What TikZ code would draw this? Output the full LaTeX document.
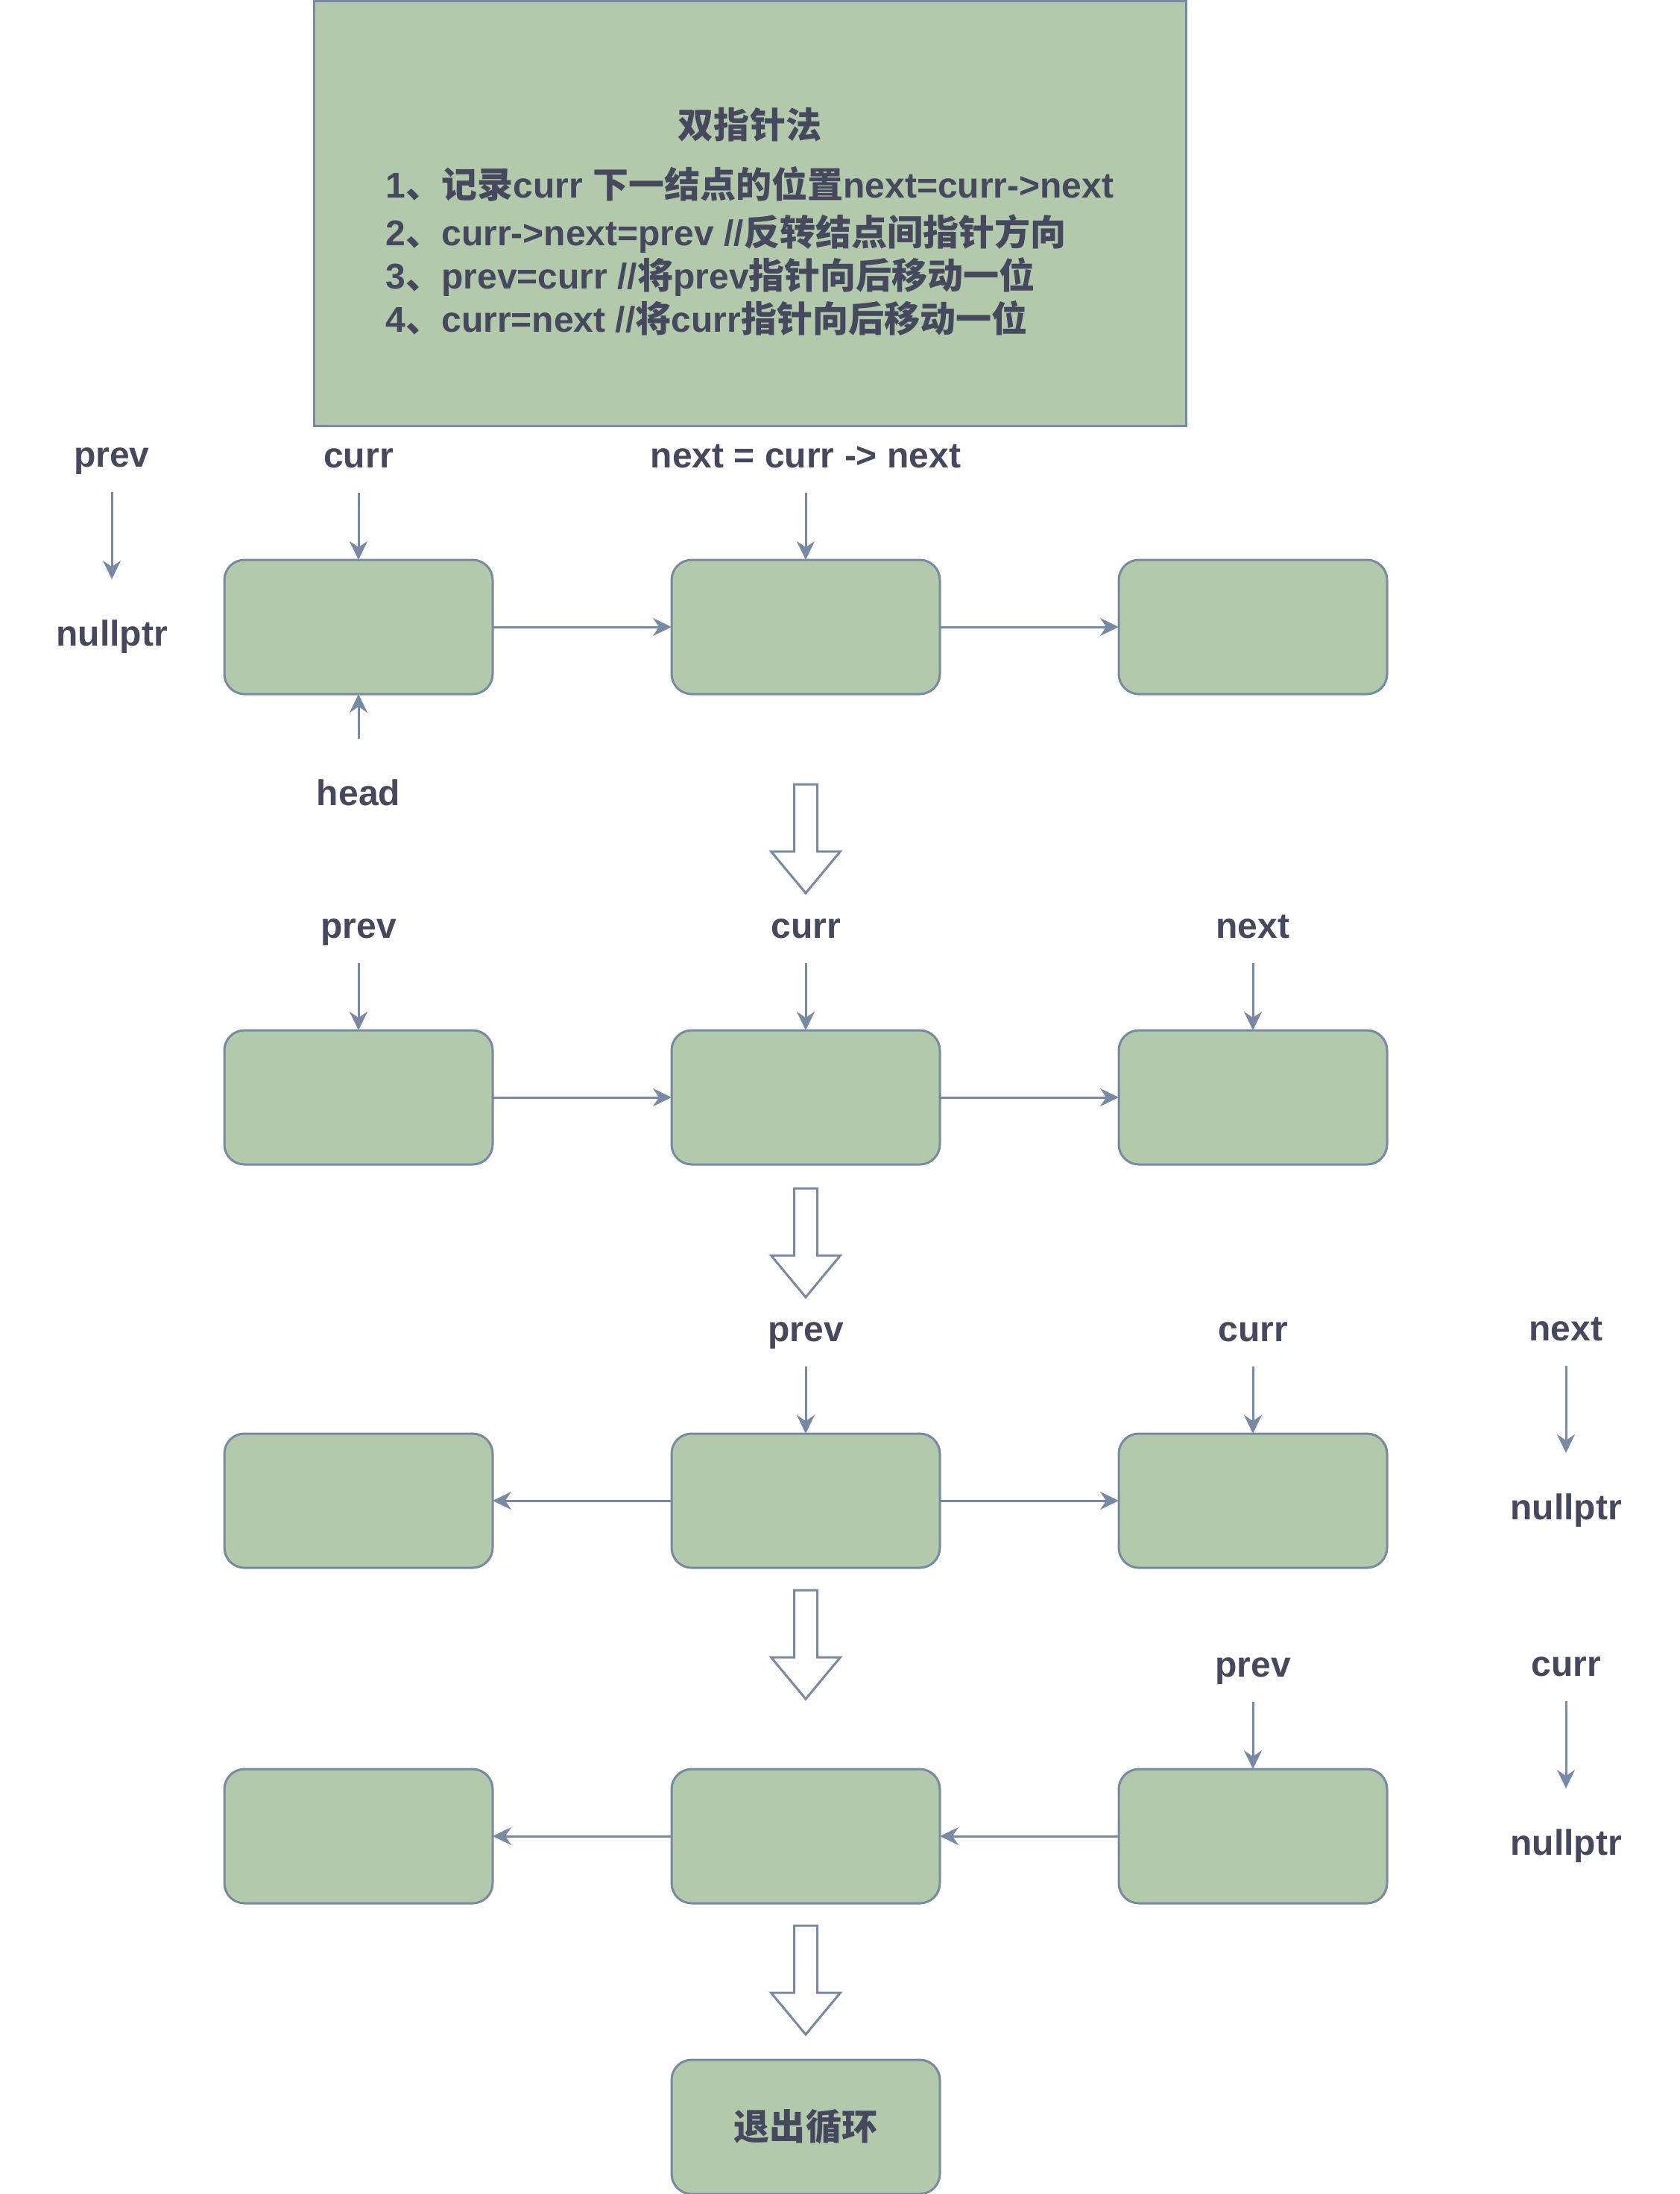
\documentclass[tikz,border=0pt]{standalone}
\usepackage{fontspec}
\setmainfont{Liberation Sans}
\newfontfamily\zhfont{Noto Sans CJK SC}
\newcommand{\zh}[1]{{\zhfont #1}}
\newcommand{\ptrfont}{\bfseries\fontsize{13.66}{16.5}\selectfont}
\usetikzlibrary{positioning, arrows.meta}
\definecolor{nodeGreen}{HTML}{B2C9AB}
\definecolor{lineGray}{HTML}{788AA3}
\definecolor{textDark}{HTML}{46495D}
\tikzset{
	listnode/.style={rectangle, draw=lineGray, line width=0.03cm, rounded corners=0.27cm,
		fill=nodeGreen, minimum width=3.6cm, minimum height=1.8cm, inner sep=0pt,
		outer sep=0pt, font=\ptrfont, text=textDark},
	notebox/.style={rectangle, draw=lineGray, line width=0.03cm, fill=nodeGreen,
		minimum width=11.7cm, minimum height=5.7cm, inner sep=0pt},
	ptrlabel/.style={font=\ptrfont, text=textDark, minimum height=1cm, inner sep=0pt,
		outer sep=0pt, text height=0.434cm, text depth=0.102cm},
	nulllabel/.style={ptrlabel, minimum height=1.46cm},
	ptrarr/.style={-{Stealth[length=0.25cm, width=0.24cm]}, draw=lineGray, line width=0.03cm},
	hollowdown/.pic={
		\draw[lineGray, line width=0.03cm, fill=white, line join=miter]
			(-0.155,0) -- (0.155,0) -- (0.155,-0.90) -- (0.465,-0.90) -- (0,-1.46)
			-- (-0.465,-0.90) -- (-0.155,-0.90) -- cycle;
	}
}

\begin{document}
\begin{tikzpicture}[node distance=2.4cm and 2.4cm]
	\useasboundingbox (0,0) rectangle (22.53,-29.43);
	% note
	\node[notebox] (note) at (10.06,-2.865) {};
	\node[font=\ptrfont, text=textDark] (title) at (10.06,-1.67) {\zh{双指针法}};
	\node[font=\ptrfont, text=textDark, align=left] (steps) at (10.06,-3.37)
		{1\zh{、记录}curr \zh{下一结点的位置}next=curr->next\\[0.06cm]
		 2\zh{、}curr->next=prev //\zh{反转结点间指针方向}\\
		 3\zh{、}prev=curr //\zh{将}prev\zh{指针向后移动一位}\\
		 4\zh{、}curr=next //\zh{将}curr\zh{指针向后移动一位}};
	% row 1
	\node[listnode] (r1a) at (4.81,-8.41) {};
	\node[listnode, right=of r1a] (r1b) {};
	\node[listnode, right=of r1b] (r1c) {};
	\node[ptrlabel] (prev1) at (1.50,-6.10) {prev};
	\node[nulllabel, below=1.17cm of prev1] (null1) {nullptr};
	\node[ptrlabel, above=0.9cm of r1a] (curr1) {curr};
	\node[ptrlabel, above=0.9cm of r1b] (next1) {next = curr -> next};
	\node[nulllabel, below=0.6cm of r1a] (head1) {head};
	\draw[ptrarr] (prev1) -- (null1);
	\draw[ptrarr] (curr1) -- (r1a);
	\draw[ptrarr] (next1) -- (r1b);
	\draw[ptrarr] (head1) -- (r1a);
	\draw[ptrarr] (r1a) -- (r1b);
	\draw[ptrarr] (r1b) -- (r1c);
	% row 2
	\node[listnode, below=4.51cm of r1a] (r2a) {};
	\node[listnode, right=of r2a] (r2b) {};
	\node[listnode, right=of r2b] (r2c) {};
	\node[ptrlabel, above=0.9cm of r2a] (prev2) {prev};
	\node[ptrlabel, above=0.9cm of r2b] (curr2) {curr};
	\node[ptrlabel, above=0.9cm of r2c] (next2) {next};
	\draw[ptrarr] (prev2) -- (r2a);
	\draw[ptrarr] (curr2) -- (r2b);
	\draw[ptrarr] (next2) -- (r2c);
	\draw[ptrarr] (r2a) -- (r2b);
	\draw[ptrarr] (r2b) -- (r2c);
	% row 3
	\node[listnode, below=3.61cm of r2a] (r3a) {};
	\node[listnode, right=of r3a] (r3b) {};
	\node[listnode, right=of r3b] (r3c) {};
	\node[ptrlabel, above=0.9cm of r3b] (prev3) {prev};
	\node[ptrlabel, above=0.9cm of r3c] (curr3) {curr};
	\node[ptrlabel] (next3) at (21.01,-17.82) {next};
	\node[nulllabel, below=1.17cm of next3] (null3) {nullptr};
	\draw[ptrarr] (prev3) -- (r3b);
	\draw[ptrarr] (curr3) -- (r3c);
	\draw[ptrarr] (next3) -- (null3);
	\draw[ptrarr] (r3b) -- (r3a);
	\draw[ptrarr] (r3b) -- (r3c);
	% row 4
	\node[listnode, below=2.7cm of r3a] (r4a) {};
	\node[listnode, right=of r4a] (r4b) {};
	\node[listnode, right=of r4b] (r4c) {};
	\node[ptrlabel, above=0.9cm of r4c] (prev4) {prev};
	\node[ptrlabel] (curr4) at (21.01,-22.32) {curr};
	\node[nulllabel, below=1.17cm of curr4] (null4) {nullptr};
	\draw[ptrarr] (prev4) -- (r4c);
	\draw[ptrarr] (curr4) -- (null4);
	\draw[ptrarr] (r4b) -- (r4a);
	\draw[ptrarr] (r4c) -- (r4b);
	% exit
	\node[listnode, below=2.1cm of r4b] (exit) {\zh{退出循环}};
	% step arrows
	\foreach \y in {-10.52,-15.94,-21.33,-25.83}
		\pic at (10.81,\y) {hollowdown};
\end{tikzpicture}
\end{document}
